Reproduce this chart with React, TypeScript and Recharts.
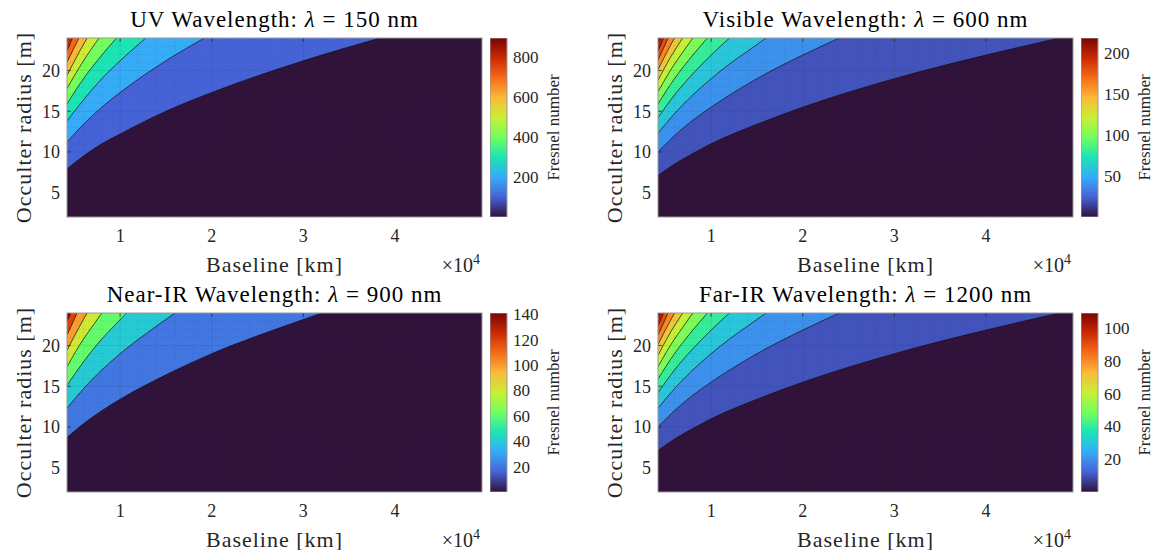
import React from 'react'
import {
  ComposedChart,
  Area,
  XAxis,
  YAxis,
  CartesianGrid,
  ReferenceLine,
  BarChart,
  Bar,
} from 'recharts'

// Four filled-contour panels of Fresnel number vs baseline / occulter radius.
// Each contour line as [baseline (x1e4 km), radius (m)]
// points, from the left edge up to where it leaves through the top of the box.

const FONT = '"Liberation Serif", "DejaVu Serif", serif'
const INK = '#262626'

// --- UV, 150 nm ---
const uvLevels = [100, 200, 300, 400, 500, 600, 700, 800, 900]
const uvCurves = [
  [[0.42, 7.9], [0.6, 9.5], [0.8, 11.0], [1, 12.2], [1.5, 15.0], [2, 17.3], [3, 21.2], [3.84, 24]],
  [[0.42, 11.2], [0.6, 13.4], [0.8, 15.5], [1, 17.3], [1.5, 21.2], [1.92, 24]],
  [[0.42, 13.8], [0.6, 16.4], [0.8, 19.0], [1, 21.2], [1.28, 24]],
  [[0.42, 15.9], [0.6, 19.0], [0.8, 21.9], [0.96, 24]],
  [[0.42, 17.8], [0.6, 21.2], [0.77, 24]],
  [[0.42, 19.4], [0.55, 22.2], [0.64, 24]],
  [[0.42, 21.0], [0.48, 22.4], [0.55, 24]],
  [[0.42, 22.4], [0.48, 24]],
  [[0.42, 23.8], [0.43, 24]],
]
const uvMax = 895
const uvBarTicks = [200, 400, 600, 800]

// --- Visible, 600 nm ---
const visLevels = [20, 40, 60, 80, 100, 120, 140, 160, 180, 200, 220]
const visCurves = [
  [[0.42, 7.1], [0.6, 8.5], [0.8, 9.8], [1, 11.0], [1.5, 13.4], [2, 15.5], [3, 19.0], [4, 21.9], [4.8, 24]],
  [[0.42, 10.0], [0.6, 12.0], [0.8, 13.9], [1, 15.5], [1.5, 19.0], [2, 21.9], [2.4, 24]],
  [[0.42, 12.3], [0.6, 14.7], [0.8, 17.0], [1, 19.0], [1.2, 20.8], [1.4, 22.4], [1.6, 24]],
  [[0.42, 14.2], [0.6, 17.0], [0.8, 19.6], [1, 21.9], [1.2, 24]],
  [[0.42, 15.9], [0.6, 19.0], [0.8, 21.9], [0.96, 24]],
  [[0.42, 17.4], [0.6, 20.8], [0.7, 22.4], [0.8, 24]],
  [[0.42, 18.8], [0.55, 21.5], [0.69, 24]],
  [[0.42, 20.1], [0.5, 21.9], [0.6, 24]],
  [[0.42, 21.3], [0.47, 22.5], [0.53, 24]],
  [[0.42, 22.4], [0.48, 24]],
  [[0.42, 23.5], [0.44, 24]],
]
const visMax = 218
const visBarTicks = [50, 100, 150, 200]

// --- Near-IR, 900 nm ---
const nirLevels = [20, 40, 60, 80, 100, 120, 140]
const nirCurves = [
  [[0.42, 8.7], [0.6, 10.4], [0.8, 12.0], [1, 13.4], [1.5, 16.4], [2, 19.0], [2.5, 21.2], [3, 23.2], [3.2, 24]],
  [[0.42, 12.3], [0.6, 14.7], [0.8, 17.0], [1, 19.0], [1.3, 21.6], [1.6, 24]],
  [[0.42, 15.1], [0.6, 18.0], [0.8, 20.8], [0.95, 22.6], [1.07, 24]],
  [[0.42, 17.4], [0.6, 20.8], [0.7, 22.4], [0.8, 24]],
  [[0.42, 19.4], [0.55, 22.2], [0.64, 24]],
  [[0.42, 21.3], [0.47, 22.5], [0.53, 24]],
  [[0.42, 23.0], [0.46, 24]],
]
const nirMax = 141
const nirBarTicks = [20, 40, 60, 80, 100, 120, 140]

// --- Far-IR, 1200 nm ---
const firLevels = [10, 20, 30, 40, 50, 60, 70, 80, 90, 100, 110]
const firCurves = [
  [[0.42, 7.1], [0.6, 8.5], [0.8, 9.8], [1, 11.0], [1.5, 13.4], [2, 15.5], [3, 19.0], [4, 21.9], [4.8, 24]],
  [[0.42, 10.0], [0.6, 12.0], [0.8, 13.9], [1, 15.5], [1.5, 19.0], [2, 21.9], [2.4, 24]],
  [[0.42, 12.3], [0.6, 14.7], [0.8, 17.0], [1, 19.0], [1.2, 20.8], [1.4, 22.4], [1.6, 24]],
  [[0.42, 14.2], [0.6, 17.0], [0.8, 19.6], [1, 21.9], [1.2, 24]],
  [[0.42, 15.9], [0.6, 19.0], [0.8, 21.9], [0.96, 24]],
  [[0.42, 17.4], [0.6, 20.8], [0.7, 22.4], [0.8, 24]],
  [[0.42, 18.8], [0.55, 21.5], [0.69, 24]],
  [[0.42, 20.1], [0.5, 21.9], [0.6, 24]],
  [[0.42, 21.3], [0.47, 22.5], [0.53, 24]],
  [[0.42, 22.4], [0.48, 24]],
  [[0.42, 23.5], [0.44, 24]],
]
const firMax = 109
const firBarTicks = [20, 40, 60, 80, 100]

const xTicks = [1, 2, 3, 4]
const yTicks = [5, 10, 15, 20]
const xMinor = [0.6, 0.8, 1.2, 1.4, 1.6, 1.8, 2.2, 2.4, 2.6, 2.8, 3.2, 3.4, 3.6, 3.8, 4.2, 4.4, 4.6, 4.8]
const yMinor = [3, 4, 6, 7, 8, 9, 11, 12, 13, 14, 16, 17, 18, 19, 21, 22, 23]

const X_MIN = 0.42
const X_MAX = 4.95
const Y_MIN = 2
const Y_MAX = 24

// MATLAB turbo colormap, sampled at ten even stops
const TURBO = ['#30123b', '#4662d7', '#36aaf9', '#1ae4b6', '#72fe5e', '#c8ef34', '#faba39', '#f66b19', '#ca2a04', '#7a0403']

function hexRgb(h: string) {
  return [1, 3, 5].map((i) => parseInt(h.slice(i, i + 2), 16))
}

function turbo(t: number) {
  const u = Math.max(0, Math.min(1, t)) * (TURBO.length - 1)
  const i = Math.min(Math.floor(u), TURBO.length - 2)
  const f = u - i
  const a = hexRgb(TURBO[i])
  const b = hexRgb(TURBO[i + 1])
  const c = a.map((v, k) => Math.round(v + (b[k] - v) * f))
  return `rgb(${c[0]},${c[1]},${c[2]})`
}

const W = 415 // plot box width
const H = 179 // plot box height
const ML = 60
const MT = 6
const MR = 6
const XH = 34
const CB_OFF = 423
const CB_W = 17
const CB_PAD = 14

interface PanelCfg {
  id: string
  left: number
  top: number
  title: string
  nm: string
  levels: number[]
  curves: number[][][]
  cmax: number
  barTicks: number[]
}

const panels: PanelCfg[] = [
  { id: 'uv', left: 67, top: 38, title: 'UV Wavelength:', nm: '150', levels: uvLevels, curves: uvCurves, cmax: uvMax, barTicks: uvBarTicks },
  { id: 'vis', left: 658, top: 38, title: 'Visible Wavelength:', nm: '600', levels: visLevels, curves: visCurves, cmax: visMax, barTicks: visBarTicks },
  { id: 'nir', left: 67, top: 313, title: 'Near-IR Wavelength:', nm: '900', levels: nirLevels, curves: nirCurves, cmax: nirMax, barTicks: nirBarTicks },
  { id: 'fir', left: 658, top: 313, title: 'Far-IR Wavelength:', nm: '1200', levels: firLevels, curves: firCurves, cmax: firMax, barTicks: firBarTicks },
]

const tickStyle = { fontSize: 18, fill: INK, fontFamily: FONT }

function ContourPlot({ p }: { p: PanelCfg }) {
  return (
    <div style={{ position: 'absolute', left: p.left - ML, top: p.top - MT }}>
      <ComposedChart width={ML + W + MR} height={MT + H + XH} margin={{ top: MT, right: MR, bottom: 0, left: 0 }}>
        <CartesianGrid fill={turbo(0)} fillOpacity={1} stroke="none" horizontal={false} vertical={false} />
        <XAxis
          type="number"
          dataKey="x"
          domain={[X_MIN, X_MAX]}
          allowDataOverflow
          ticks={xTicks}
          interval={0}
          height={XH}
          axisLine={false}
          tickLine={false}
          tickSize={0}
          tickMargin={12}
          tick={tickStyle}
        />
        <YAxis
          type="number"
          domain={[Y_MIN, Y_MAX]}
          allowDataOverflow
          ticks={yTicks}
          interval={0}
          width={ML}
          axisLine={false}
          tickLine={false}
          tickSize={0}
          tickMargin={7}
          tick={tickStyle}
        />
        {p.curves.map((c, i) => (
          <Area
            key={`c${i}`}
            data={c.map(([x, y]) => ({ x, y }))}
            dataKey="y"
            type="monotone"
            baseValue={Y_MAX}
            fill={turbo(p.levels[i] / p.cmax)}
            fillOpacity={1}
            stroke="#111"
            strokeWidth={0.7}
            dot={false}
            activeDot={false}
            isAnimationActive={false}
          />
        ))}
        {xMinor.map((v) => (
          <ReferenceLine key={`xm${v}`} x={v} stroke={INK} strokeOpacity={0.22} strokeDasharray="1 2" strokeWidth={0.6} />
        ))}
        {yMinor.map((v) => (
          <ReferenceLine key={`ym${v}`} y={v} stroke={INK} strokeOpacity={0.22} strokeDasharray="1 2" strokeWidth={0.6} />
        ))}
        {xTicks.map((v) => (
          <ReferenceLine key={`xg${v}`} x={v} stroke={INK} strokeOpacity={0.15} strokeWidth={0.7} />
        ))}
        {yTicks.map((v) => (
          <ReferenceLine key={`yg${v}`} y={v} stroke={INK} strokeOpacity={0.15} strokeWidth={0.7} />
        ))}
        {xTicks.map((v) => (
          <ReferenceLine key={`xb${v}`} segment={[{ x: v, y: Y_MIN }, { x: v, y: Y_MIN + 0.45 }]} stroke={INK} strokeWidth={0.8} />
        ))}
        {xTicks.map((v) => (
          <ReferenceLine key={`xt${v}`} segment={[{ x: v, y: Y_MAX }, { x: v, y: Y_MAX - 0.45 }]} stroke={INK} strokeWidth={0.8} />
        ))}
        {yTicks.map((v) => (
          <ReferenceLine key={`yl${v}`} segment={[{ x: X_MIN, y: v }, { x: X_MIN + 0.04, y: v }]} stroke={INK} strokeWidth={0.8} />
        ))}
        {yTicks.map((v) => (
          <ReferenceLine key={`yr${v}`} segment={[{ x: X_MAX, y: v }, { x: X_MAX - 0.04, y: v }]} stroke={INK} strokeWidth={0.8} />
        ))}
      </ComposedChart>
    </div>
  )
}

function ColorBar({ p }: { p: PanelCfg }) {
  const gid = `cb-${p.id}`
  return (
    <div style={{ position: 'absolute', left: p.left + CB_OFF, top: p.top - CB_PAD }}>
      <BarChart
        width={CB_W + 50}
        height={CB_PAD + H + CB_PAD}
        data={[{ k: 'c', v: p.cmax }]}
        margin={{ top: CB_PAD, right: 0, bottom: CB_PAD, left: 0 }}
        barCategoryGap={0}
      >
        <defs>
          <linearGradient id={gid} x1="0" y1="1" x2="0" y2="0">
            {TURBO.map((c, i) => (
              <stop key={c} offset={i / (TURBO.length - 1)} stopColor={c} />
            ))}
          </linearGradient>
        </defs>
        <XAxis dataKey="k" hide />
        <YAxis
          orientation="right"
          type="number"
          domain={[0, p.cmax]}
          allowDataOverflow
          ticks={p.barTicks}
          interval={0}
          width={50}
          axisLine={false}
          tickLine={false}
          tickSize={0}
          tickMargin={6}
          tick={{ fontSize: 17, fill: INK, fontFamily: FONT }}
        />
        <Bar dataKey="v" fill={`url(#${gid})`} stroke="#999" strokeWidth={1} isAnimationActive={false} />
      </BarChart>
    </div>
  )
}

function Labels() {
  return (
    <svg width={1163} height={550} style={{ position: 'absolute', left: 0, top: 0, pointerEvents: 'none', fontFamily: FONT }}>
      {panels.map((p) => (
        <g key={p.id} fill={INK}>
          <rect x={p.left} y={p.top} width={W} height={H} fill="none" stroke="#999" strokeWidth={1} />
          <text x={p.left + W / 2} y={p.top - 11} textAnchor="middle" fontSize={23} letterSpacing={1} fill="#000">
            {p.title}{'  '}
            <tspan fontStyle="italic">λ</tspan> = {p.nm} nm
          </text>
          <text
            x={p.left + W / 2}
            y={p.top + H + 47}
            textAnchor="middle"
            dominantBaseline="central"
            fontSize={22}
            letterSpacing={1}
          >
            Baseline [km]
          </text>
          <text
            transform={`translate(${p.left - 44},${p.top + H / 2}) rotate(-90)`}
            textAnchor="middle"
            dominantBaseline="central"
            fontSize={22}
            letterSpacing={1}
          >
            Occulter radius [m]
          </text>
          <text x={p.left + W - 2} y={p.top + H + 55} textAnchor="end" fontSize={20}>
            ×10<tspan dy={-8} fontSize={14}>4</tspan>
          </text>
          <text
            transform={`translate(${p.left + W + 71},${p.top + H / 2}) rotate(-90)`}
            textAnchor="middle"
            dominantBaseline="central"
            fontSize={17}
          >
            Fresnel number
          </text>
        </g>
      ))}
    </svg>
  )
}

export default function App() {
  return (
    <div
      style={{
        position: 'absolute',
        left: 0,
        top: 0,
        width: 1163,
        height: 550,
        background: '#fff',
        overflow: 'hidden',
        fontFamily: FONT,
      }}
    >
      {panels.map((p) => (
        <React.Fragment key={p.id}>
          <ContourPlot p={p} />
          <ColorBar p={p} />
        </React.Fragment>
      ))}
      <Labels />
    </div>
  )
}
